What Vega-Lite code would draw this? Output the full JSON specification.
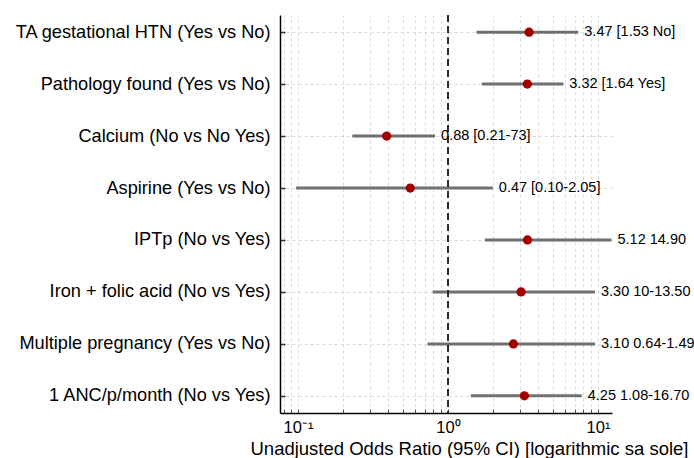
{
  "$schema": "https://vega.github.io/schema/vega-lite/v6.json",
  "width": 332,
  "height": 398,
  "autosize": "none",
  "padding": {"left": 280, "top": 15, "right": 82, "bottom": 45},
  "background": "white",
  "config": {"font": "Liberation Sans", "view": {"stroke": null}},
  "datasets": {
    "rows": [
      {"label": "TA gestational HTN (Yes vs No)", "or": 3.47, "lo": 1.55, "hi": 7.39, "txt": "3.47 [1.53 No]"},
      {"label": "Pathology found (Yes vs No)", "or": 3.38, "lo": 1.68, "hi": 5.87, "txt": "3.32 [1.64 Yes]"},
      {"label": "Calcium (No vs No Yes)", "or": 0.39, "lo": 0.23, "hi": 0.82, "txt": "0.88 [0.21-73]"},
      {"label": "Aspirine (Yes vs No)", "or": 0.56, "lo": 0.097, "hi": 1.99, "txt": "0.47 [0.10-2.05]"},
      {"label": "IPTp (No vs Yes)", "or": 3.39, "lo": 1.76, "hi": 12.3, "txt": "5.12 14.90"},
      {"label": "Iron + folic acid (No vs Yes)", "or": 3.07, "lo": 0.79, "hi": 9.55, "txt": "3.30 10-13.50"},
      {"label": "Multiple pregnancy (Yes vs No)", "or": 2.73, "lo": 0.73, "hi": 9.55, "txt": "3.10 0.64-1.49"},
      {"label": "1 ANC/p/month (No vs Yes)", "or": 3.23, "lo": 1.42, "hi": 7.79, "txt": "4.25 1.08-16.70"}
    ],
    "ref": [{"ref": 1}]
  },
  "data": {"name": "rows"},
  "layer": [
    {
      "mark": {"type": "rule", "strokeWidth": 3, "color": "#707070"},
      "encoding": {
        "y": {
          "field": "label", "type": "nominal", "sort": null,
          "scale": {"type": "point", "padding": 0.33},
          "axis": {
            "title": null, "labelFontSize": 18.2, "labelColor": "#000000", "labelPadding": 15, "labelLimit": 0,
            "domainColor": "#000000", "domainWidth": 1.5, "tickColor": "#333333", "tickSize": -5, "tickWidth": 1.5,
            "grid": true, "gridDash": [3, 3], "gridColor": "#d9d9d9"
          }
        },
        "x": {
          "field": "lo", "type": "quantitative",
          "scale": {"type": "log", "domain": [0.0758, 12.4], "nice": false},
          "axis": {
            "values": [0.08, 0.09, 0.1, 0.2, 0.3, 0.4, 0.5, 0.6, 0.7, 0.8, 0.9, 1, 2, 3, 4, 5, 6, 7, 8, 9, 10],
            "labelExpr": "datum.value == 0.1 ? '10⁻¹' : datum.value == 1 ? '10⁰' : datum.value == 10 ? '10¹' : ''",
            "labelFontSize": 16.5, "labelColor": "#000000", "labelOverlap": false, "labelFlush": false, "labelPadding": 10,
            "title": "Unadjusted Odds Ratio (95% CI) [logarithmic sa sole]",
            "titleFontSize": 18.5, "titleFontWeight": "normal", "titleColor": "#000000", "titlePadding": 4,
            "titleX": 189, "titleAnchor": "middle",
            "domainColor": "#000000", "domainWidth": 1.5, "tickColor": "#555555", "tickSize": -4,
            "grid": true, "gridDash": [3, 3], "gridColor": "#d9d9d9"
          }
        },
        "x2": {"field": "hi"}
      }
    },
    {
      "data": {"name": "ref"},
      "mark": {"type": "rule", "strokeDash": [7, 4], "strokeWidth": 2, "color": "#2b2b2b"},
      "encoding": {"x": {"field": "ref", "type": "quantitative"}}
    },
    {
      "mark": {"type": "point", "filled": true, "size": 85, "color": "#a30000", "opacity": 1},
      "encoding": {
        "y": {"field": "label", "type": "nominal", "sort": null},
        "x": {"field": "or", "type": "quantitative"}
      }
    },
    {
      "mark": {"type": "text", "align": "left", "baseline": "middle", "dx": 6, "fontSize": 14.5, "color": "#000000"},
      "encoding": {
        "y": {"field": "label", "type": "nominal", "sort": null},
        "x": {"field": "hi", "type": "quantitative"},
        "text": {"field": "txt"}
      }
    }
  ]
}
